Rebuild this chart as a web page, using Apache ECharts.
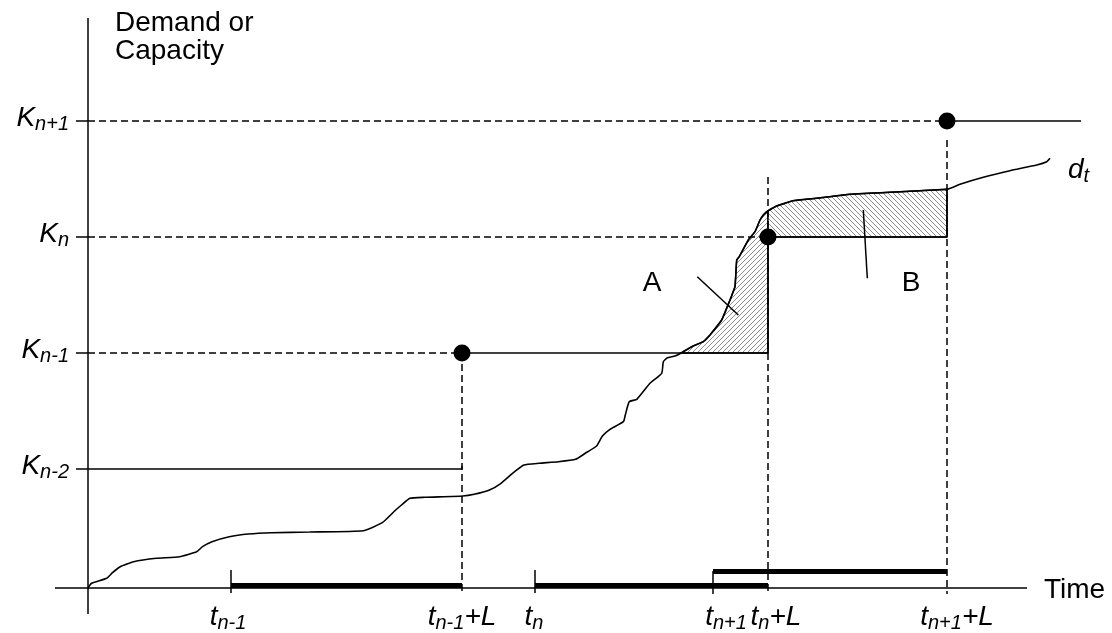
<!DOCTYPE html>
<html><head><meta charset="utf-8">
<script src="https://cdn.jsdelivr.net/npm/echarts@6/dist/echarts.min.js"></script>
<style>html,body{margin:0;padding:0;background:#fff}#c{width:1112px;height:633px}</style>
</head><body><div id="c"></div>
<script>
// ---- data (diagram units: time on x, demand/capacity on y) ----
const capacitySubs   = ['n-2', 'n-1', 'n', 'n+1'];
const capacityValues = [11.9, 23.5, 35.1, 46.7];
const orderSubs      = ['n-1', 'n', 'n+1'];
const orderTimes     = [14.3, 44.7, 62.5];     // t_{n-1}, t_n, t_{n+1}
const arrivalTimes   = [37.4, 68.0, 85.9];     // t + L
const demandX = [0, 0.35, 1.88, 2.45, 3.22, 4.56, 6.85, 9.15, 10.87, 11.45, 12.4, 14.13, 16.04, 18.34, 22.16, 27.52, 29.43, 30.77, 31.35, 32.19, 33.64, 37.47, 38.62, 40.15, 41.3, 42.45, 43.59, 45.12, 47.04, 48.76, 49.72, 50.86, 51.44, 52.2, 53.54, 53.73, 54.12, 54.88, 56.2, 57.37, 57.53, 57.9, 58.7, 59.37, 60.37, 61.53, 62.2, 63.37, 64.2, 64.7, 64.87, 65.13, 66.03, 66.7, 67.2, 67.53, 67.97, 68.87, 69.87, 70.47, 72.87, 76.2, 81.2, 85.87, 87.2, 89.53, 92.2, 94.87, 95.87, 96.2];
const demandY = [0, 0.47, 0.97, 1.53, 2.13, 2.63, 2.97, 3.13, 3.63, 4.13, 4.63, 5.13, 5.4, 5.53, 5.6, 5.73, 6.53, 7.8, 8.3, 8.97, 9.07, 9.2, 9.37, 9.8, 10.47, 11.47, 12.3, 12.47, 12.63, 12.87, 13.47, 14.2, 15.2, 15.87, 16.63, 17.3, 18.63, 18.87, 20.47, 21.47, 22.63, 23.0, 23.2, 23.53, 24.13, 24.63, 25.3, 26.8, 28.8, 30.13, 32.8, 33.13, 34.8, 35.63, 36.8, 37.3, 37.7, 38.2, 38.53, 38.73, 38.97, 39.37, 39.63, 39.87, 40.37, 41.07, 41.73, 42.3, 42.63, 42.97];

// ---- helpers ----
const FONT = '"Liberation Sans", Arial, sans-serif';
const demand = demandX.map((x, i) => [x, demandY[i]]);
function yAt(x) { for (let i = 1; i < demand.length; i++) { const a = demand[i-1], b = demand[i]; if (x >= a[0] && x <= b[0]) return a[1] + (b[1]-a[1])*(x-a[0])/(b[0]-a[0]); } return demand[demand.length-1][1]; }
function xAt(y) { for (let i = 1; i < demand.length; i++) { const a = demand[i-1], b = demand[i]; if (y >= a[1] && y <= b[1] && b[1] !== a[1]) return a[0] + (b[0]-a[0])*(y-a[1])/(b[1]-a[1]); } return 0; }
const K = capacityValues, T = arrivalTimes, O = orderTimes;

// hatched regions A and B
const crossA = xAt(K[1]);
const polyA = [[crossA, K[1]]].concat(demand.filter(p => p[0] > crossA && p[0] < T[1])).concat([[T[1], yAt(T[1])], [T[1], K[1]]]);
const polyB = [[T[1], K[2]], [T[1], yAt(T[1])]].concat(demand.filter(p => p[0] > T[1] && p[0] < T[2])).concat([[T[2], yAt(T[2])], [T[2], K[2]]]);

function hatch(dir) {
  const s = 5, c = document.createElement('canvas'); c.width = c.height = s;
  const g = c.getContext('2d'); g.fillStyle = '#fff'; g.fillRect(0, 0, s, s);
  g.strokeStyle = '#8c8c8c'; g.lineWidth = 1; g.beginPath();
  for (const o of [-s, 0, s]) {
    if (dir > 0) { g.moveTo(o - 1, s + 1); g.lineTo(o + s + 1, -1); }
    else { g.moveTo(o - 1, -1); g.lineTo(o + s + 1, s + 1); }
  }
  g.stroke(); return c;
}
const patterns = [{ image: hatch(1), repeat: 'repeat' }, { image: hatch(-1), repeat: 'repeat' }];

// ---- segments ----
const solid = [
  [[0, -2.6], [0, 57.0]],               // y axis
  [[-3.3, 0], [93.9, 0]],               // x axis
  [[-1.2, K[0]], [T[0], K[0]]],
  [[T[0], K[0]], [T[0], K[0] + 0.3]],
  [[T[0], K[1]], [T[1], K[1]]],
  [[T[1], K[1]], [T[1], K[2]]],
  [[T[1], K[2]], [T[2], K[2]]],
  [[T[2], K[2]], [T[2], yAt(T[2])]],
  [[T[2], K[3]], [99.3, K[3]]],
  [[-1.2, K[1]], [0, K[1]]], [[-1.2, K[2]], [0, K[2]]], [[-1.2, K[3]], [0, K[3]]],
  [[O[0], 1.8], [O[0], -0.5]], [[O[1], 1.8], [O[1], -0.5]], [[O[2], 1.7], [O[2], -0.6]],
  [[60.93, 31.13], [65.03, 27.3]],      // leader A
  [[77.53, 37.8], [77.93, 30.97]]       // leader B
];
const dashed = [
  [[0, K[1]], [T[0], K[1]]], [[0, K[2]], [T[1], K[2]]], [[0, K[3]], [T[2], K[3]]],
  [[T[0], K[1]], [T[0], -0.6]], [[T[1], 41.1], [T[1], -0.6]], [[T[2], 44.8], [T[2], -0.6]]
];
const thick = [
  [[O[0], 0.25], [T[0], 0.25]], [[O[1], 0.25], [T[1], 0.25]], [[O[2], 1.7], [T[2], 1.7]]
];

// ---- text ----
const base = { fontFamily: FONT, color: '#000' };
const rich = {
  K:  Object.assign({ fontSize: 28, fontStyle: 'italic', lineHeight: 32 }, base),
  ks: Object.assign({ fontSize: 20, fontStyle: 'italic', lineHeight: 20, verticalAlign: 'bottom' }, base),
  t:  Object.assign({ fontSize: 28, fontStyle: 'italic', lineHeight: 32 }, base),
  ts: Object.assign({ fontSize: 20, fontStyle: 'italic', lineHeight: 17, verticalAlign: 'bottom' }, base),
  p:  Object.assign({ fontSize: 28, lineHeight: 28 }, base)
};
function lbl(x, y, text, align, vAlign, off) {
  return { value: [x, y], label: { formatter: text, align: align, verticalAlign: vAlign, offset: off || [0, 0] } };
}
const texts = [];
capacitySubs.forEach((s, i) => texts.push(lbl(-1.9, K[i], '{K|K}{ks|' + s + '}', 'right', 'middle', [0, -3])));
const tOff = [-3, -1, 13], tLOff = [0, 8, 10];
orderSubs.forEach((s, i) => {
  texts.push(lbl(O[i], -2.9, '{t|t}{ts|' + s + '}', 'center', 'middle', [tOff[i], 0]));
  texts.push(lbl(T[i], -2.9, '{t|t}{ts|' + s + '}{t|+L}', 'center', 'middle', [tLOff[i], 0]));
});
texts.push(lbl(2.7, 57.9, '{p|Demand or}\n{p|Capacity}', 'left', 'top'));
texts.push(lbl(95.6, -0.2, '{p|Time}', 'left', 'middle'));
texts.push(lbl(56.4, 30.5, '{p|A}', 'center', 'middle'));
texts.push(lbl(82.3, 30.5, '{p|B}', 'center', 'middle'));
texts.push(lbl(98.0, 41.8, '{t|d}{ts|t}', 'left', 'middle'));

const seg = (arr) => arr.map(c => ({ coords: c }));
const chart = echarts.init(document.getElementById('c'), null, { renderer: 'canvas' });
chart.setOption({
  animation: false,
  backgroundColor: '#fff',
  grid: { left: 0, right: 0, top: 0, bottom: 0 },
  xAxis: { type: 'value', min: -8.8, max: 102.4, show: false },
  yAxis: { type: 'value', min: -4.5, max: 58.8, show: false },
  series: [
    { type: 'custom', renderItem: (params, api) => {
        const poly = params.dataIndex === 0 ? polyA : polyB;
        return { type: 'polygon', shape: { points: poly.map(p => api.coord(p)) },
                 style: { fill: patterns[params.dataIndex], stroke: '#000', lineWidth: 1.4 } };
      }, data: [[0, 0], [1, 1]], silent: true, z: 1 },
    { type: 'lines', coordinateSystem: 'cartesian2d', data: seg(solid), lineStyle: { color: '#000', width: 1.5, opacity: 1 }, z: 2 },
    { type: 'lines', coordinateSystem: 'cartesian2d', data: seg(dashed), lineStyle: { color: '#000', width: 1.5, type: [7, 4], opacity: 1 }, z: 2 },
    { type: 'lines', coordinateSystem: 'cartesian2d', data: seg(thick), lineStyle: { color: '#000', width: 5, opacity: 1, cap: 'butt' }, z: 2 },
    { type: 'line', data: demand, symbol: 'none', smooth: 0.15, lineStyle: { color: '#000', width: 1.6 }, z: 3 },
    { type: 'scatter', data: T.map((t, i) => [t, K[i + 1]]), symbolSize: 17, itemStyle: { color: '#000', opacity: 1 }, z: 4 },
    { type: 'scatter', data: texts, symbolSize: 1, itemStyle: { color: 'rgba(0,0,0,0)', opacity: 1 }, z: 5,
      label: { show: true, position: 'inside', rich: rich, fontFamily: FONT, color: '#000' } }
  ]
});
</script></body></html>
